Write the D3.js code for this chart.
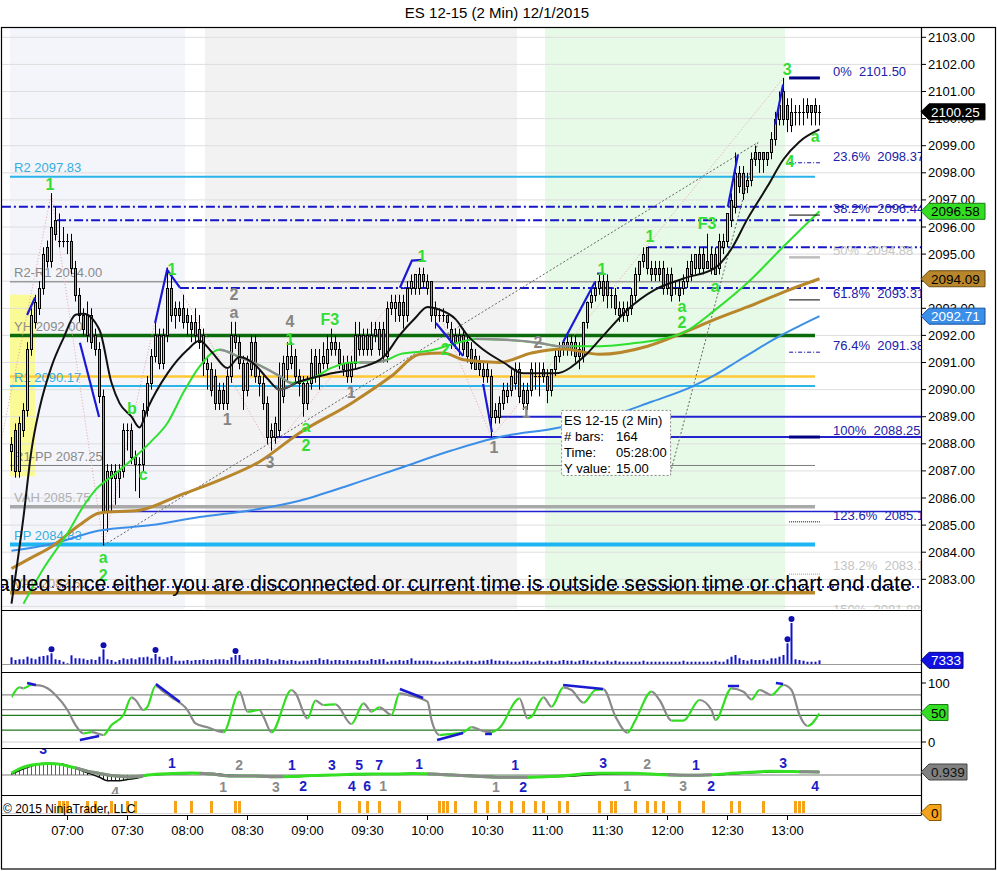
<!DOCTYPE html>
<html><head><meta charset="utf-8">
<script src="https://cdn.jsdelivr.net/npm/d3@7/dist/d3.min.js"></script>
<style>
html,body{margin:0;padding:0;background:#fff;}
svg{display:block;}
text{font-family:"Liberation Sans",Arial,Helvetica,sans-serif;}
</style></head>
<body>
<svg id="chart" width="997" height="871"></svg>
<script>
// ================= DATA =================
const chartTitle = "ES 12-15 (2 Min)  12/1/2015";
const firstBarMinute = 392;   // 06:32
const barMinutes = 2;
const timeTicks = [420,450,480,510,540,570,600,630,660,690,720,750,780];
const priceTicks = d3.range(2083, 2104, 1);

const opens = [
2087.75,2088.5,2087.0,2088.5,2089.25,2091.5,2092.5,2093.0,2093.75,2095.25,
2094.75,2096.25,2095.5,2095.5,2095.5,2095.5,2094.5,2093.5,2092.75,2092.75,
2092.75,2092.0,2091.5,2089.75,2085.5,2087.0,2086.75,2086.75,2087.0,2088.5,
2088.5,2087.5,2087.25,2087.25,2089.25,2090.25,2091.25,2092.0,2091.0,2092.0,
2093.75,2092.75,2093.0,2093.0,2092.75,2092.5,2092.5,2092.25,2092.0,2091.0,
2090.75,2090.5,2090.0,2090.0,2089.5,2090.5,2092.0,2091.75,2091.0,2090.0,
2090.75,2091.75,2090.5,2090.25,2089.5,2088.25,2088.25,2088.5,2089.75,2090.75,
2091.0,2091.25,2090.5,2090.25,2089.5,2090.25,2091.25,2090.5,2091.0,2091.0,
2091.5,2091.75,2091.5,2091.0,2091.0,2090.5,2091.0,2092.0,2091.5,2092.0,
2091.5,2092.0,2092.25,2092.25,2091.25,2093.0,2093.0,2093.25,2093.25,2092.75,
2093.75,2093.75,2093.75,2094.25,2093.75,2094.0,2093.0,2092.75,2092.75,2092.75,
2092.25,2092.0,2092.0,2092.0,2091.75,2091.5,2091.25,2091.0,2090.75,2090.75,
2090.5,2089.0,2089.0,2089.5,2089.75,2090.0,2090.25,2090.75,2090.0,2089.5,
2090.0,2090.5,2090.5,2090.75,2090.5,2090.0,2090.75,2091.25,2091.5,2091.75,
2091.5,2091.75,2091.5,2091.25,2092.5,2093.25,2093.5,2093.75,2094.0,2094.0,
2093.5,2093.5,2093.0,2092.75,2092.75,2093.0,2093.5,2094.25,2094.75,2095.25,
2094.5,2094.5,2094.5,2094.5,2094.25,2094.25,2093.75,2093.75,2093.75,2094.0,
2094.25,2094.5,2095.0,2095.0,2094.75,2094.5,2095.0,2094.5,2095.25,2095.5,
2096.25,2096.75,2098.0,2098.0,2097.5,2097.75,2098.75,2098.5,2098.75,2098.5,
2098.75,2099.25,2100.0,2101.0,2100.5,2099.75,2100.25,2100.25,2100.25,2100.5,
2100.5,2100.5,2100.25];
const highs = [
2088.25,2088.75,2089.0,2089.5,2091.75,2093.0,2093.5,2094.0,2095.25,2095.5,
2097.25,2096.75,2096.5,2096.0,2095.75,2095.75,2094.75,2093.75,2093.0,2093.25,
2093.0,2092.25,2091.75,2090.0,2087.25,2087.25,2087.25,2087.25,2088.75,2088.75,
2088.75,2087.75,2087.5,2089.5,2090.5,2091.5,2092.5,2092.25,2092.25,2094.5,
2094.25,2093.25,2093.25,2093.5,2093.0,2092.75,2093.0,2092.75,2092.25,2091.25,
2091.0,2090.75,2090.25,2090.25,2090.75,2092.5,2092.5,2092.0,2091.25,2091.25,
2092.0,2092.0,2090.75,2090.5,2089.75,2088.75,2089.0,2091.0,2091.25,2091.75,
2091.75,2091.5,2090.75,2090.5,2090.5,2091.5,2091.5,2091.5,2091.75,2092.0,
2092.25,2092.0,2091.75,2091.25,2091.25,2091.25,2092.5,2092.5,2092.25,2092.25,
2092.5,2092.5,2092.5,2092.5,2093.25,2093.5,2093.5,2093.5,2093.5,2094.0,
2094.25,2094.25,2094.5,2094.5,2094.25,2094.0,2093.25,2093.0,2093.0,2092.75,
2092.5,2092.25,2092.25,2092.25,2092.0,2091.75,2091.5,2091.25,2091.0,2091.0,
2090.75,2089.5,2089.75,2090.25,2090.25,2090.75,2091.0,2091.0,2090.25,2090.25,
2091.0,2091.0,2091.0,2091.0,2090.75,2090.75,2091.5,2091.75,2091.75,2092.0,
2092.0,2092.0,2091.75,2092.5,2093.25,2093.75,2094.0,2094.25,2094.25,2094.25,
2093.75,2093.75,2093.25,2093.25,2093.25,2093.75,2094.5,2094.75,2095.25,2095.25,
2094.75,2094.75,2094.75,2094.75,2094.5,2094.5,2094.0,2094.0,2094.25,2094.75,
2095.0,2095.0,2095.25,2095.25,2095.75,2095.25,2095.25,2095.75,2095.75,2096.5,
2097.25,2098.75,2098.25,2098.25,2098.0,2098.75,2099.0,2098.75,2098.75,2098.75,
2099.5,2100.25,2101.0,2101.5,2100.75,2100.75,2100.5,2100.5,2100.75,2100.75,
2100.5,2100.75,2100.5];
const lows = [
2087.0,2086.75,2086.75,2088.25,2089.0,2091.25,2092.25,2092.75,2093.5,2094.5,
2094.5,2095.5,2095.25,2095.25,2095.0,2094.25,2093.25,2092.5,2092.0,2091.75,
2091.5,2091.25,2089.5,2084.25,2084.75,2085.5,2085.75,2086.0,2086.75,2087.75,
2087.25,2086.25,2086.0,2087.0,2089.0,2090.0,2091.0,2090.75,2090.75,2091.75,
2092.5,2092.25,2092.5,2092.25,2092.0,2091.75,2091.75,2091.5,2090.5,2090.0,
2089.75,2089.25,2089.25,2089.25,2089.25,2090.25,2091.5,2090.75,2089.25,2089.75,
2090.5,2090.25,2089.75,2089.25,2088.0,2087.75,2088.0,2088.25,2089.5,2090.25,
2090.75,2090.25,2089.75,2089.0,2089.25,2090.0,2090.25,2090.0,2090.75,2090.75,
2091.25,2091.25,2090.75,2090.5,2090.25,2090.25,2090.75,2091.25,2091.25,2091.25,
2091.25,2091.75,2091.25,2091.0,2091.0,2092.75,2092.5,2092.5,2092.25,2092.5,
2093.5,2093.5,2093.5,2093.75,2093.5,2092.5,2092.25,2092.5,2092.5,2092.25,
2091.5,2091.5,2091.25,2091.25,2091.0,2090.75,2090.75,2090.5,2090.25,2090.25,
2088.25,2088.75,2088.75,2089.25,2089.5,2089.75,2090.0,2089.5,2089.25,2089.25,
2089.75,2090.0,2089.75,2090.25,2089.5,2089.75,2090.5,2091.0,2091.25,2091.25,
2091.25,2091.0,2090.75,2091.0,2092.25,2093.0,2093.25,2093.5,2093.25,2093.0,
2093.0,2092.75,2092.5,2092.5,2092.5,2092.75,2093.25,2094.0,2094.5,2094.25,
2094.0,2094.0,2094.0,2093.5,2093.5,2093.25,2093.5,2093.25,2093.5,2093.75,
2094.0,2094.25,2094.25,2094.25,2094.5,2094.25,2094.25,2094.25,2095.0,2095.25,
2096.0,2096.5,2097.25,2097.0,2097.25,2097.5,2098.25,2098.0,2098.0,2098.25,
2098.5,2099.0,2099.75,2099.75,2099.5,2099.5,2099.75,2099.75,2099.75,2100.0,
2099.75,2099.75,2099.75];
const closes = [
2088.0,2087.0,2088.75,2089.25,2091.5,2092.75,2093.25,2093.75,2095.0,2094.75,
2096.0,2095.75,2095.5,2095.5,2095.5,2094.5,2093.5,2092.75,2092.25,2092.0,
2091.75,2091.5,2089.75,2085.5,2087.0,2086.75,2087.0,2087.0,2088.5,2088.5,
2087.5,2087.25,2087.25,2089.25,2090.25,2091.25,2092.0,2091.0,2092.0,2093.75,
2092.75,2093.0,2092.75,2092.5,2092.5,2092.25,2092.0,2091.75,2091.0,2090.75,
2090.0,2089.5,2089.5,2089.5,2090.5,2092.0,2091.75,2091.0,2090.0,2091.0,
2091.75,2090.5,2090.25,2089.5,2088.25,2088.5,2088.75,2090.5,2091.0,2091.25,
2091.25,2090.5,2090.25,2089.5,2090.25,2091.0,2090.5,2091.0,2091.25,2091.5,
2091.75,2091.5,2091.0,2090.75,2090.5,2091.0,2092.0,2091.5,2092.0,2091.5,
2092.0,2092.25,2091.5,2091.25,2093.0,2093.25,2093.25,2092.75,2092.75,2093.75,
2094.0,2094.25,2094.25,2094.0,2094.0,2092.75,2092.75,2092.75,2092.75,2092.5,
2091.75,2091.75,2091.75,2091.5,2091.25,2091.0,2090.75,2090.75,2090.5,2090.5,
2089.0,2089.25,2089.5,2090.0,2090.0,2090.5,2090.75,2089.75,2089.5,2090.0,
2090.75,2090.5,2090.5,2090.5,2090.0,2090.75,2091.25,2091.5,2091.75,2091.5,
2091.75,2091.25,2091.25,2092.5,2093.25,2093.5,2093.75,2094.0,2093.5,2093.5,
2093.5,2093.0,2092.75,2093.0,2093.0,2093.5,2094.25,2094.75,2095.0,2094.5,
2094.25,2094.25,2094.25,2093.75,2093.75,2093.5,2093.75,2093.5,2094.0,2094.5,
2094.75,2095.0,2094.5,2094.5,2094.5,2095.0,2094.25,2095.5,2095.5,2096.5,
2097.0,2098.0,2097.5,2097.25,2097.75,2098.5,2098.5,2098.75,2098.5,2098.75,
2099.25,2100.0,2100.5,2100.0,2100.0,2100.25,2100.25,2100.25,2100.25,2100.25,
2100.25,2100.25,2100.25];
const volumes = [
13400,8000,9400,9400,14600,11400,9400,14600,16000,17400,
21400,9400,8000,4600,1400,17400,11400,11400,10600,8000,
9400,8000,14600,29400,9400,8000,4600,8000,11400,9400,
11400,9400,13400,13400,14600,11400,20000,14600,9400,13400,
16000,6600,6600,6600,8000,6600,8000,8000,9400,8000,
8000,9400,9400,9400,8000,13400,18000,18000,8000,9400,
8000,9400,10000,8000,10600,8000,6600,9400,8000,6600,
8000,6600,5400,6600,6600,8000,8000,11400,8000,9400,
6600,8000,8000,6600,8000,6600,6600,8000,6600,6600,
10000,8000,9400,10000,4600,6600,6600,8000,6600,8000,
11400,6600,6600,6600,6600,6600,4600,4600,4600,6600,
4600,5400,6600,4600,6600,6600,4600,6600,6600,8000,
9400,6600,6600,5400,6600,4600,4600,4600,6600,6600,
4600,4600,6600,4600,6600,6600,4600,6600,8000,6600,
6600,4600,6600,8000,6600,4600,6600,4600,4600,6600,
4600,6600,4600,4600,4600,4600,4600,4600,6600,4600,
4600,4600,4600,4600,4600,4600,4600,4600,6600,4600,
4600,4600,4600,4600,4600,4600,6600,4600,4600,9400,
14600,18000,11400,8000,6600,9400,8000,8000,9400,6600,
11400,11400,14600,18000,41400,82000,9400,8000,6600,4600,
4600,4600,7333];
const volumeSignalBars = [10,23,36,56,194,195];

// moving averages (bar index, value)
const maBlueBar = [0,10,22,35,47,60,72,85,97,110,122,135,147,160,170,176,181,186,192,197,202];
const maBlueVal = [2084.05,2084.3,2084.8,2085.0,2085.3,2085.55,2085.9,2086.5,2087.1,2087.75,2088.25,2088.55,2088.9,2089.55,2090.1,2090.55,2091.0,2091.45,2091.97,2092.35,2092.71];
const maBrownBar = [0,5,10,17,22,32,42,52,62,72,85,95,102,108,113,122,130,138,147,159,168,176,184,193,202];
const maBrownVal = [2083.4,2083.8,2084.2,2085.0,2085.45,2085.55,2086.1,2086.66,2087.34,2088.4,2089.5,2090.5,2091.3,2091.35,2091.1,2091.0,2091.35,2091.5,2091.3,2091.6,2092.1,2092.6,2093.05,2093.6,2094.09];
const maGreenBar = [3,8,14,18,21,26,30,35,39,43,47,52,57,62,67,70,75,80,85,90,94,97,105,112,116,122,132,137,147,155,162,168,176,184,193,202];
const maGreenVal = [2082.1,2083.4,2084.7,2085.7,2086.3,2086.9,2087.4,2088.1,2088.77,2089.9,2090.85,2091.47,2091.2,2090.9,2090.5,2090.25,2090.4,2090.8,2091.0,2091.0,2091.1,2091.3,2091.45,2091.75,2091.87,2091.85,2091.72,2091.6,2091.6,2091.7,2091.85,2092.1,2092.95,2093.94,2095.28,2096.58];
const maGreenFlatRanges = [[52,70],[87,94],[116,140]];
const maBlackBar = [0,3,5,7,10,13,16,18,22,25,27,30,32,34,39,44,47,50,54,57,61,64,67,72,80,87,93,97,101,104,107,111,114,118,123,128,136,143,148,154,161,168,176,180,184,189,193,197,202];
const maBlackVal = [2082.1,2085.3,2087.77,2089.3,2090.85,2091.9,2092.76,2092.8,2092.2,2090.25,2089.5,2089.0,2088.6,2089.3,2090.6,2091.47,2091.8,2091.4,2090.8,2091.2,2090.9,2090.4,2090.0,2090.3,2090.6,2090.8,2091.2,2092.0,2092.65,2093.05,2092.95,2092.6,2092.0,2091.47,2091.0,2090.6,2090.6,2091.2,2092.0,2092.95,2093.7,2094.1,2094.5,2095.2,2096.3,2097.5,2098.5,2099.15,2099.6];
const maBlackFlatRanges = [[66,71]];

// horizontal levels
const levelLabels = ["R2 2097.83","R2-R1 2094.00","YH 2092.00","","R1 2090.17","R1-PP 2087.25","VAH 2085.75","PP 2084.83","VAL 2082.50"];
const levelPrices = [2097.85,2093.98,2092.0,2090.48,2090.13,2087.2,2085.68,2084.28,2082.5];
const levelFromMinute = 391.25, levelToMinute = 793.75;
const dashDotPrices = [2096.75,2096.25,2095.25,2093.75];
const dashDotFromBar = [-2.4,11.4,159.1,42.1];
const rayPrices = [2089.0,2088.25,2085.5];
const rayFromBar = [120.9,64.6,23.2];
const dottedRayPrice = 2082.72;

// session shading (minutes)
const bandFrom = [391.25,488.75,658.75];
const bandTo = [478.75,644.75,778.75];
const highlightFrom = 391.25, highlightTo = 403.75, highlightHi = 2093.5, highlightLo = 2086.8;

// drawing objects
const zigzagBar = [-2.9,10,23,39,65,102,120,193];
const zigzagPrice = [2087.88,2097.25,2084.25,2094.5,2087.75,2094.5,2088.25,2101.5];
const measureBar = [23,186.6,164.6];
const measurePrice = [2084.25,2099.12,2086.85];
const slopeLines = [
 [[3.9,2092.75],[5.9,2093.4]],
 [[17.1,2091.73],[21.9,2088.99]],
 [[35.9,2092.46],[38.9,2094.42],[42.1,2093.76]],
 [[97.1,2093.76],[100.1,2094.76],[102.9,2094.79]],
 [[106.1,2092.46],[112.9,2091.24]],
 [[117.9,2090.21],[120.1,2088.43]],
 [[137.9,2091.76],[145.9,2093.98]],
 [[146.4,2094.28],[148.1,2094.28]],
 [[179.1,2096.75],[181.6,2098.67]],
 [[190.9,2099.78],[192.9,2101.26]]
];

// fibonacci
const fibPcts = ["0%","23.6%","38.2%","50%","61.8%","76.4%","100%","123.6%","138.2%","150%"];
const fibPrices = [2101.50,2098.37,2096.44,2094.88,2093.31,2091.38,2088.25,2085.12,2083.19,2081.88];
const fibFromBar = 194.4, fibToBar = 202.1, fibLabelBar = 205.4;

// chart text markers
const greenLabelText = ["1","1","1","F3","1","2","1","1","F3","3","4","a","a","2","a","a","2","b","c","a","2"];
const greenLabelBar = [9.6,40.1,69.6,79.6,102.6,108.4,147.6,159.6,173.9,193.9,194.6,200.9,167.6,167.6,175.9,73.6,73.6,30.1,32.9,22.9,22.9];
const greenLabelPrice = [2097.57,2094.42,2091.84,2092.57,2094.9,2091.47,2094.42,2095.65,2096.12,2101.82,2098.42,2099.34,2093.06,2092.46,2093.79,2088.62,2087.95,2089.32,2086.88,2083.81,2083.15];
const greyLabelText = ["2","a","4","1","3","1","1","1","2"];
const greyLabelBar = [55.6,55.6,69.6,53.9,64.6,84.9,120.6,128.6,131.6];
const greyLabelPrice = [2093.5,2092.83,2092.5,2088.88,2087.3,2089.88,2087.88,2089.17,2091.72];

// tooltip
const tooltipBar = 137.4, tooltipPrice = 2089.25;
const tooltipKeys = ["ES 12-15 (2 Min)","# bars:","Time:","Y value:"];
const tooltipVals = ["","164","05:28:00","15.00"];
const sessionMessage = "Market data disabled since either you are disconnected or current time is outside session time or chart end date";

// stochastics
const stochBar = [0,2,3,5,7,9,11,14,16,18,20,23,25,28,30,31,33,34,36,38,40,44,46,49,53,57,59,62,63,65,70,71,74,76,78,81,85,88,90,92,95,97,99,104,105,107,110,113,115,118,120,122,127,129,130,133,135,138,140,143,146,148,151,154,156,160,162,165,168,172,175,176,180,183,185,187,190,193,195,197,199,202];
const stochVal = [75.7,92.7,91.0,96.6,96.0,91.0,79.7,54.2,28.8,14.7,16.6,11.9,28.8,45.8,75.7,71.2,54.2,59.9,94.9,85.3,75.7,54.2,31.6,24.9,16.6,85.3,51.4,54.2,42.9,16.4,88.1,82.5,40.2,70.1,62.7,63.8,30.5,65.5,51.4,58.8,45.8,82.5,79.7,68.4,37.3,11.9,13.6,16.6,25.1,18.4,16.6,24.0,73.7,40.2,43.0,75.7,59.9,92.7,88.1,66.7,88.1,89.3,43.0,15.8,37.3,85.3,71.2,36.2,36.2,71.2,54.2,37.3,91.0,85.3,72.3,88.1,79.7,96.6,88.1,45.8,27.1,48.6];
const stochLevels = [80,55,45,20,0];
const stochDivergences = [
 [[3.9,100],[6.1,96.6]], [[17.1,3.4],[21.9,10.2]], [[36.1,98.3],[42.1,67.8]],
 [[97.1,89.8],[102.9,74.6]], [[106.4,3.4],[112.9,15.3]], [[118.4,13.6],[120.1,13.6]],
 [[137.9,96.6],[147.9,89.8]], [[179.1,94.9],[181.9,94.9]], [[191.1,100],[192.9,98.3]]
];

// oscillator (macd-like)
const macdBar = [0,2,4,7,9,12,14,17,19,22,24,27,29,32,34,40,45,50,55,60,65,70,75,80,85,90,96,100,105,110,115,122,129,137,147,155,163,170,175,182,190,197,202];
const macdVal = [0.6,1.9,2.8,3.4,3.6,3.4,2.8,1.9,1.2,0.5,0,-0.4,-0.6,-0.4,0,0.47,0.63,0.31,-0.31,-0.31,-0.53,-0.47,-0.16,0,0.22,0.31,0.31,0.47,0.31,0,-0.31,-0.72,-0.72,-0.31,0.53,0.53,0.09,-0.09,0.09,0.72,1.16,1.05,0.939];
const signalVal = [0.3,1.4,2.4,3.5,3.7,3.5,3.0,1.6,0.7,-0.7,-1.8,-1.8,-1.4,-0.8,-0.1,0.3,0.55,0.45,-0.1,-0.35,-0.5,-0.55,-0.3,-0.1,0.1,0.25,0.3,0.4,0.38,0.15,-0.15,-0.6,-0.75,-0.5,0.2,0.5,0.3,0.0,0.0,0.5,0.95,1.05,0.85];
const macdFallingRanges = [[16,33],[47,68],[104,129],[164,175],[197,202]];
const macdLabelText = ["3","4","1","2","1","3","1","2","3","5","7","4","6","1","1","1","1","2","3","2","1","3","1","2","3","4"];
const macdLabelBar = [7.9,25.9,40.1,56.9,52.9,66.1,70.1,72.9,80.1,86.9,91.9,85.1,88.9,92.9,101.9,121.1,125.9,127.9,147.9,158.9,153.9,167.9,171.1,174.9,192.9,200.9];
const macdLabelVal = [8.2,-5.2,3.75,3.1,-3.75,-3.75,3.1,-3.4,3.1,3.1,3.1,-3.4,-3.4,-3.4,3.4,-3.75,3.1,-3.75,3.75,3.4,-3.4,-3.4,3.1,-3.4,3.75,-3.4];
const macdLabelUp = [1,0,1,0,0,0,1,1,1,1,1,1,1,0,1,0,1,1,1,0,0,0,1,1,1,1];

// signal ticks
const tickSignalBars = [12,13,14,19,21,25,29,31,41,45,50,56,57,82,87,89,92,97,107,108,109,111,116,119,122,125,128,131,133,137,139,147,150,151,156,159,161,163,167,173,180,182,188,196,197,198];

// right-axis value markers
const markerValues = ["2100.25","2096.58","2094.09","2092.71"];
const volumeMarker = "7333", stochMarker = "50", macdMarker = "0.939", tickMarker = "0";

// ================= DRAWING =================
const svg = d3.select("#chart");
const defs = svg.append("defs");
function clipRect(id,x,y,w,h){defs.append("clipPath").attr("id",id).append("rect").attr("x",x).attr("y",y).attr("width",w).attr("height",h);}
const AX = 921;
clipRect("cPrice",2,28,AX-2,581);
clipRect("cVol",2,611,AX-2,60);
clipRect("cSto",2,673,AX-2,74);
clipRect("cMacd",2,749,AX-2,45);
clipRect("cTick",2,796,AX-2,18);

const xT = d3.scaleLinear().domain([420,780]).range([67.5,787.5]);
const bx = i => xT(firstBarMinute + barMinutes*i);
const yP = d3.scaleLinear().domain([2083,2103]).range([579.3,37.3]);
const yV = d3.scaleLinear().domain([0,92000]).range([664,618]);
const yS = d3.scaleLinear().domain([0,100]).range([742,683]);
const yM = d3.scaleLinear().domain([-3,3]).range([784.6,765.4]);

svg.append("rect").attr("width",997).attr("height",871).attr("fill","#fff");

// ---------- price panel ----------
const gP = svg.append("g").attr("clip-path","url(#cPrice)");
const bandColors = ["#f3f5fb","#f2f2f2","#e7f9e7"];
bandFrom.forEach((f,k)=>{
  gP.append("rect").attr("x",xT(f)).attr("y",28).attr("width",xT(bandTo[k])-xT(f)).attr("height",581).attr("fill",bandColors[k]);
});
gP.append("rect").attr("x",xT(highlightFrom)).attr("y",yP(highlightHi)).attr("width",xT(highlightTo)-xT(highlightFrom))
  .attr("height",yP(highlightLo)-yP(highlightHi)).attr("fill","#fafa96");
d3.range(2082,2104).forEach(p=>{
  gP.append("line").attr("x1",2).attr("x2",AX).attr("y1",yP(p)).attr("y2",yP(p)).attr("stroke","#dedede").attr("stroke-width",1);
});

// levels
const levelStyle = [["#2ab4ea",2,"#35aee0"],["#9c9c9c",1.5,"#8a8a8a"],["#0c6c0c",3.5,"#8a8a8a"],["#ffc933",2.5,"#000"],
 ["#2ab4ea",2,"#35aee0"],["#7d7d7d",1,"#8a8a8a"],["#a9a9a9",3.5,"#b0b0b0"],["#1db6f2",4,"#35aee0"],["#b8862b",3.5,"#c9a66e"]];
levelPrices.forEach((p,k)=>{
  gP.append("line").attr("x1",xT(levelFromMinute)).attr("x2",xT(levelToMinute)).attr("y1",yP(p)).attr("y2",yP(p))
    .attr("stroke",levelStyle[k][0]).attr("stroke-width",levelStyle[k][1]);
});
dashDotPrices.forEach((p,k)=>{
  gP.append("line").attr("x1",bx(dashDotFromBar[k])).attr("x2",bx(240)).attr("y1",yP(p)).attr("y2",yP(p))
    .attr("stroke","#1616c8").attr("stroke-width",2).attr("stroke-dasharray","9,3,2,3");
});
const rayW = [2,2,1.5];
rayPrices.forEach((p,k)=>{
  gP.append("line").attr("x1",bx(rayFromBar[k])).attr("x2",bx(240)).attr("y1",yP(p)).attr("y2",yP(p))
    .attr("stroke","#2121d0").attr("stroke-width",rayW[k]);
});
gP.append("line").attr("x1",2).attr("x2",bx(240)).attr("y1",yP(dottedRayPrice)).attr("y2",yP(dottedRayPrice))
  .attr("stroke","#2a2ac8").attr("stroke-width",2).attr("stroke-dasharray","2,3");
levelLabels.forEach((t,k)=>{
  if(!t) return;
  gP.append("text").attr("x",14).attr("y",yP(levelPrices[k])-4.5).attr("font-size",13).attr("fill",levelStyle[k][2]).text(t);
});

// zigzag & measure
const lineIP = d3.line().x(d=>bx(d[0])).y(d=>yP(d[1]));
gP.append("path").attr("d",lineIP(zigzagBar.map((b,k)=>[b,zigzagPrice[k]]))).attr("fill","none")
  .attr("stroke","#e7a2a2").attr("stroke-width",1).attr("stroke-dasharray","1,2");
gP.append("path").attr("d",lineIP(measureBar.map((b,k)=>[b,measurePrice[k]]))).attr("fill","none")
  .attr("stroke","#666").attr("stroke-width",1).attr("stroke-dasharray","2,2");

// candles
const gC = gP.append("g");
closes.forEach((c,i)=>{
  const cx = bx(i), o = opens[i];
  gC.append("line").attr("x1",cx).attr("x2",cx).attr("y1",yP(highs[i])).attr("y2",yP(lows[i])).attr("stroke","#000").attr("stroke-width",1);
  const top = Math.round(yP(Math.max(o,c)))+0.5, bot = Math.round(yP(Math.min(o,c)))+0.5;
  if(bot-top < 1){
    gC.append("line").attr("x1",cx-1.5).attr("x2",cx+1.5).attr("y1",top).attr("y2",top).attr("stroke","#000");
  } else {
    gC.append("rect").attr("x",cx-1).attr("y",top).attr("width",2).attr("height",bot-top)
      .attr("fill", c>o ? "#9fdc92" : "#9a9a9a").attr("stroke","#000").attr("stroke-width",1);
  }
});

// moving averages
const maLine = d3.line().x(d=>bx(d[0])).y(d=>yP(d[1])).curve(d3.curveMonotoneX);
let clipN = 0;
function drawMA(g, bars, vals, color, width, altRanges, altColor, yTop, hgt){
  const d = maLine(bars.map((b,k)=>[b,vals[k]]));
  g.append("path").attr("d",d).attr("fill","none").attr("stroke",color).attr("stroke-width",width).attr("stroke-linejoin","round");
  (altRanges||[]).forEach(r=>{
    const id = "cl"+(clipN++);
    clipRect(id,bx(r[0]),yTop,bx(r[1])-bx(r[0]),hgt);
    g.append("path").attr("d",d).attr("fill","none").attr("stroke",altColor).attr("stroke-width",width+0.4).attr("clip-path",`url(#${id})`);
  });
}
drawMA(gP, maBlueBar, maBlueVal, "#3b8fe8", 2, [], null, 28, 581);
drawMA(gP, maBrownBar, maBrownVal, "#b8862b", 3, [], null, 28, 581);
drawMA(gP, maGreenBar, maGreenVal, "#2fe02f", 2, maGreenFlatRanges, "#8f8f8f", 28, 581);
drawMA(gP, maBlackBar, maBlackVal, "#111", 2, maBlackFlatRanges, "#555", 28, 581);

// slope segments
slopeLines.forEach(s=>{
  gP.append("path").attr("d",lineIP(s)).attr("fill","none").attr("stroke","#1a1ad6").attr("stroke-width",2.2);
});

// fib
const fibStyle = [["#000080",3,null],["#1111aa",1,"4,2,1,2"],["#000",1,null],["#bdbdbd",2.5,null],["#000",1,null],
 ["#1111aa",1,"4,2,1,2"],["#000080",3,null],["#000",1,"1,1"],["#999",1,"1,1"],["#bbb",1,"1,1"]];
const fibText = ["#2020a8","#2020a8","#2020a8","#c8c8c8","#2020a8","#2020a8","#2020a8","#2020a8","#c4c4c4","#c4c4c4"];
const fibTextDy = [-2,-2,-2,-2,-2,-2,-2,-2,-4,4];
fibPrices.forEach((p,k)=>{
  const l = gP.append("line").attr("x1",bx(fibFromBar)).attr("x2",bx(fibToBar)).attr("y1",yP(p)).attr("y2",yP(p))
    .attr("stroke",fibStyle[k][0]).attr("stroke-width",fibStyle[k][1]);
  if(fibStyle[k][2]) l.attr("stroke-dasharray",fibStyle[k][2]);
  gP.append("text").attr("x",bx(fibLabelBar)).attr("y",yP(p)+fibTextDy[k]).attr("font-size",13).attr("fill",fibText[k])
    .style("white-space","pre").text(fibPcts[k]+"  "+p.toFixed(2));
});

// labels
greenLabelText.forEach((t,k)=>{
  gP.append("text").attr("x",bx(greenLabelBar[k])).attr("y",yP(greenLabelPrice[k])).attr("text-anchor","middle")
    .attr("dominant-baseline","central").attr("font-size",16).attr("font-weight","bold").attr("fill","#33dd33").text(t);
});
greyLabelText.forEach((t,k)=>{
  gP.append("text").attr("x",bx(greyLabelBar[k])).attr("y",yP(greyLabelPrice[k])).attr("text-anchor","middle")
    .attr("dominant-baseline","central").attr("font-size",16).attr("font-weight","bold").attr("fill","#858585").text(t);
});

// tooltip
const tx = bx(tooltipBar), ty = yP(tooltipPrice);
gP.append("rect").attr("x",tx+0.5).attr("y",ty+0.5).attr("width",109).attr("height",65).attr("fill","#fff")
  .attr("stroke","#888").attr("stroke-dasharray","2,2");
tooltipKeys.forEach((k,n)=>{
  gP.append("text").attr("x",tx+3).attr("y",ty+15+n*16).attr("font-size",13).attr("fill","#000").text(k);
  gP.append("text").attr("x",tx+55).attr("y",ty+15+n*16).attr("font-size",13).attr("fill","#000").text(tooltipVals[n]);
});

// session message
gP.append("text").attr("x",912).attr("y",591).attr("text-anchor","end").attr("font-size",21.5).attr("fill","#000").text(sessionMessage);

// ---------- volume ----------
const gV = svg.append("g").attr("clip-path","url(#cVol)");
gV.append("line").attr("x1",2).attr("x2",AX).attr("y1",664.5).attr("y2",664.5).attr("stroke","#9a9a9a");
volumes.forEach((v,i)=>{
  gV.append("rect").attr("x",bx(i)-1).attr("y",yV(v)).attr("width",2).attr("height",664-yV(v)).attr("fill","#1212cc");
});
volumeSignalBars.forEach(i=>{
  gV.append("circle").attr("cx",bx(i)).attr("cy",yV(volumes[i])-4).attr("r",3).attr("fill","#1010b0");
});

// ---------- stochastics ----------
const gS = svg.append("g").attr("clip-path","url(#cSto)");
const stLvlColor = ["#8c8c8c","#8c8c8c","#1f7a1f","#1f7a1f","#d2d2d2"];
stochLevels.forEach((v,k)=>{
  gS.append("line").attr("x1",2).attr("x2",AX).attr("y1",yS(v)).attr("y2",yS(v)).attr("stroke",stLvlColor[k]).attr("stroke-width",1.2);
});
const stLine = d3.line().x(d=>bx(d[0])).y(d=>yS(d[1])).curve(d3.curveMonotoneX);
const stD = stLine(stochBar.map((b,k)=>[b,stochVal[k]]));
let runStart = 0;
for(let k=1;k<stochBar.length;k++){
  const up = stochVal[k] >= stochVal[k-1];
  const nextUp = k+1<stochBar.length ? stochVal[k+1] >= stochVal[k] : !up;
  if(nextUp !== up || k===stochBar.length-1){
    const id = "cl"+(clipN++);
    clipRect(id,bx(stochBar[runStart]),673,bx(stochBar[k])-bx(stochBar[runStart]),74);
    gS.append("path").attr("d",stD).attr("fill","none").attr("stroke",up?"#33dd22":"#8a8a8a").attr("stroke-width",2.2)
      .attr("clip-path",`url(#${id})`);
    runStart = k;
  }
}
const stDiv = d3.line().x(d=>bx(d[0])).y(d=>yS(d[1]));
stochDivergences.forEach(s=>{
  gS.append("path").attr("d",stDiv(s)).attr("fill","none").attr("stroke","#1a1ad0").attr("stroke-width",2.5);
});

// ---------- oscillator ----------
const gM = svg.append("g").attr("clip-path","url(#cMacd)");
const pat = (id,color)=>{
  const p = defs.append("pattern").attr("id",id).attr("patternUnits","userSpaceOnUse").attr("width",4).attr("height",10);
  p.append("line").attr("x1",3.5).attr("x2",3.5).attr("y1",0).attr("y2",10).attr("stroke",color).attr("stroke-width",1);
};
pat("hatchG","#1d8f1d"); pat("hatchK","#222");
gM.append("line").attr("x1",2).attr("x2",AX).attr("y1",yM(0)).attr("y2",yM(0)).attr("stroke","#7a7a7a");
const earlyPts = macdBar.map((b,k)=>({b,m:macdVal[k],s:signalVal[k]})).filter(d=>d.b<=34);
const areaG = d3.area().x(d=>bx(d.b)).y0(yM(0)).y1(d=>yM(d.m)).curve(d3.curveMonotoneX);
const areaK = d3.area().x(d=>bx(d.b)).y0(yM(0)).y1(d=>yM(d.s)).curve(d3.curveMonotoneX);
const c1 = "cl"+(clipN++); clipRect(c1,bx(0)-1,749,bx(18)-bx(0)+1,45);
const c2 = "cl"+(clipN++); clipRect(c2,bx(18),749,bx(34)-bx(18),45);
gM.append("path").attr("d",areaG(earlyPts)).attr("fill","url(#hatchG)").attr("clip-path",`url(#${c1})`);
gM.append("path").attr("d",areaK(earlyPts)).attr("fill","url(#hatchK)").attr("clip-path",`url(#${c2})`);
const mLine = d3.line().x(d=>bx(d[0])).y(d=>yM(d[1])).curve(d3.curveMonotoneX);
gM.append("path").attr("d",mLine(macdBar.map((b,k)=>[b,signalVal[k]]))).attr("fill","none").attr("stroke","#111").attr("stroke-width",1.5);
const mD = mLine(macdBar.map((b,k)=>[b,macdVal[k]]));
gM.append("path").attr("d",mD).attr("fill","none").attr("stroke","#33e022").attr("stroke-width",3);
macdFallingRanges.forEach(r=>{
  const id = "cl"+(clipN++);
  clipRect(id,bx(r[0]),749,bx(r[1])-bx(r[0]),45);
  gM.append("path").attr("d",mD).attr("fill","none").attr("stroke","#8a8a8a").attr("stroke-width",3).attr("clip-path",`url(#${id})`);
});
macdLabelText.forEach((t,k)=>{
  gM.append("text").attr("x",bx(macdLabelBar[k])).attr("y",yM(macdLabelVal[k])).attr("text-anchor","middle")
    .attr("dominant-baseline","central").attr("font-size",14).attr("font-weight","bold")
    .attr("fill",macdLabelUp[k]?"#1c1cc8":"#8a8a8a").text(t);
});

// ---------- signal ticks ----------
const gT = svg.append("g").attr("clip-path","url(#cTick)");
gT.append("line").attr("x1",2).attr("x2",AX).attr("y1",813.5).attr("y2",813.5).attr("stroke","#d8d8d8");
tickSignalBars.forEach(i=>{
  gT.append("rect").attr("x",bx(i)-1.5).attr("y",801).attr("width",3).attr("height",12).attr("fill","#f5a31a");
});
svg.append("text").attr("x",3).attr("y",813).attr("font-size",12).attr("fill","#000").text("© 2015 NinjaTrader, LLC");

// ---------- frame, separators, axes ----------
const fr = svg.append("g").attr("stroke","#000").attr("stroke-width",1.2);
fr.append("rect").attr("x",1.5).attr("y",27.5).attr("width",994).attr("height",841.5).attr("fill","none");
[610,672,748,795,815].forEach(y=>fr.append("line").attr("x1",1.5).attr("x2",AX).attr("y1",y+0.5).attr("y2",y+0.5));
fr.append("line").attr("x1",AX+0.5).attr("x2",AX+0.5).attr("y1",27.5).attr("y2",815.5);

priceTicks.forEach(p=>{
  svg.append("line").attr("x1",AX).attr("x2",AX+5).attr("y1",yP(p)).attr("y2",yP(p)).attr("stroke","#000");
  svg.append("text").attr("x",AX+7).attr("y",yP(p)+4.5).attr("font-size",13).attr("fill","#000").text(p.toFixed(2));
});
[100,0].forEach(v=>{
  svg.append("line").attr("x1",AX).attr("x2",AX+5).attr("y1",yS(v)).attr("y2",yS(v)).attr("stroke","#000");
  svg.append("text").attr("x",AX+7).attr("y",yS(v)+4.5).attr("font-size",13).attr("fill","#000").text(v);
});
timeTicks.forEach(m=>{
  svg.append("line").attr("x1",xT(m)).attr("x2",xT(m)).attr("y1",815).attr("y2",820).attr("stroke","#000");
  const hh = String(Math.floor(m/60)).padStart(2,"0"), mm = String(m%60).padStart(2,"0");
  svg.append("text").attr("x",xT(m)).attr("y",835).attr("text-anchor","middle").attr("font-size",13).attr("fill","#000").text(hh+":"+mm);
});

function marker(y,w,fill,stroke,tc,label){
  const pts = [[AX,y],[AX+8,y-8],[AX+w,y-8],[AX+w,y+8],[AX+8,y+8]];
  svg.append("polygon").attr("points",pts.map(p=>p.join(",")).join(" ")).attr("fill",fill).attr("stroke",stroke).attr("stroke-width",1);
  svg.append("text").attr("x",AX+10).attr("y",y+5).attr("font-size",13.5).attr("fill",tc).text(label);
}
const mkStyle = [["#000","#000","#fff"],["#33dd22","#1a7a1a","#000"],["#b8862b","#6b4d10","#000"],["#3b8fe8","#1a4f9a","#fff"]];
markerValues.forEach((v,k)=>marker(yP(+v),64,mkStyle[k][0],mkStyle[k][1],mkStyle[k][2],v));
marker(yV(+volumeMarker),42,"#1010e0","#000080","#fff",volumeMarker);
marker(yS(+stochMarker),27,"#33dd22","#1a7a1a","#000",stochMarker);
marker(yM(+macdMarker),46,"#808080","#444","#111",macdMarker);
marker(812.5,20,"#f5a31a","#8a5a00","#000",tickMarker);

// title
svg.append("text").attr("x",497).attr("y",18).attr("text-anchor","middle").attr("font-size",15).attr("fill","#000").text(chartTitle);
</script>
</body></html>
